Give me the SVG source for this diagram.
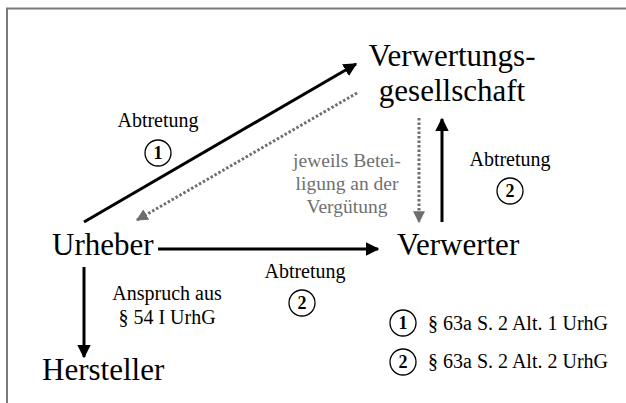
<svg xmlns="http://www.w3.org/2000/svg" width="626" height="403" viewBox="0 0 626 403">
<style>
.big{font-family:"Liberation Serif","Times New Roman",serif;font-size:31px;fill:#000}
.mid{font-family:"Liberation Serif","Times New Roman",serif;font-size:20px;fill:#000}
.gray{font-family:"Liberation Serif","Times New Roman",serif;font-size:19.5px;fill:#707070}
.num{font-family:"Liberation Serif","Times New Roman",serif;font-size:18px;font-weight:bold;fill:#000}
.solid{stroke:#000;stroke-width:3;fill:none}
.dot{stroke:#6e6e6e;stroke-width:3;stroke-dasharray:2.5 2;fill:none}
.circ{fill:#fff;stroke:#000;stroke-width:1.3}
</style>
<defs>
<marker id="ah" viewBox="0 0 10 10" refX="9" refY="5" markerWidth="4.5" markerHeight="4.5" orient="auto" markerUnits="strokeWidth">
<path d="M0,0 L10,5 L0,10 Z" fill="#000"/>
</marker>
<marker id="ahg" viewBox="0 0 10 10" refX="9" refY="5" markerWidth="4" markerHeight="4" orient="auto" markerUnits="strokeWidth">
<path d="M0,0 L10,5 L0,10 Z" fill="#6e6e6e"/>
</marker>
</defs>
<rect width="626" height="403" fill="#fff"/>
<path d="M7,403 V8.5 H626" stroke="#7a7a7a" stroke-width="2" fill="none"/>
<g id="connectors">
<line class="solid" x1="84" y1="222" x2="356" y2="64" marker-end="url(#ah)"/>
<line class="dot" x1="357" y1="93" x2="137" y2="220" marker-end="url(#ahg)"/>
<line class="solid" x1="158" y1="249" x2="378" y2="249" marker-end="url(#ah)"/>
<line class="solid" x1="442" y1="222" x2="442" y2="119" marker-end="url(#ah)"/>
<line class="dot" x1="419" y1="118" x2="419" y2="222" marker-end="url(#ahg)"/>
<line class="solid" x1="84" y1="267" x2="84" y2="357" marker-end="url(#ah)"/>
</g>
<g id="verwertungsgesellschaft">
<text class="big" x="452" y="66" text-anchor="middle">Verwertungs-</text>
<text class="big" x="452" y="101" text-anchor="middle">gesellschaft</text>
</g>
<g id="urheber"><text class="big" x="52" y="255">Urheber</text></g>
<g id="verwerter"><text class="big" x="397" y="255">Verwerter</text></g>
<g id="hersteller"><text class="big" x="42" y="380">Hersteller</text></g>
<g id="label-abtretung-1">
<text class="mid" x="158" y="127" text-anchor="middle">Abtretung</text>
<circle class="circ" cx="158" cy="153" r="13"/>
<text class="num" x="158" y="159" text-anchor="middle">1</text>
</g>
<g id="label-abtretung-2a">
<text class="mid" x="510" y="166" text-anchor="middle">Abtretung</text>
<circle class="circ" cx="510" cy="191" r="13"/>
<text class="num" x="510" y="197" text-anchor="middle">2</text>
</g>
<g id="label-abtretung-2b">
<text class="mid" x="305" y="278" text-anchor="middle">Abtretung</text>
<circle class="circ" cx="302" cy="303" r="13"/>
<text class="num" x="302" y="309" text-anchor="middle">2</text>
</g>
<g id="label-beteiligung">
<text class="gray" x="347" y="167" text-anchor="middle">jeweils Betei-</text>
<text class="gray" x="347" y="190" text-anchor="middle">ligung an der</text>
<text class="gray" x="347" y="213" text-anchor="middle">Vergütung</text>
</g>
<g id="label-anspruch">
<text class="mid" x="167" y="300" text-anchor="middle">Anspruch aus</text>
<text class="mid" x="167" y="324" text-anchor="middle">§ 54 I UrhG</text>
</g>
<g id="legend">
<circle class="circ" cx="403" cy="323" r="13"/>
<text class="num" x="403" y="329" text-anchor="middle">1</text>
<text class="mid" x="428" y="330">§ 63a S. 2 Alt. 1 UrhG</text>
<circle class="circ" cx="403" cy="362" r="13"/>
<text class="num" x="403" y="368" text-anchor="middle">2</text>
<text class="mid" x="428" y="368">§ 63a S. 2 Alt. 2 UrhG</text>
</g>
</svg>
